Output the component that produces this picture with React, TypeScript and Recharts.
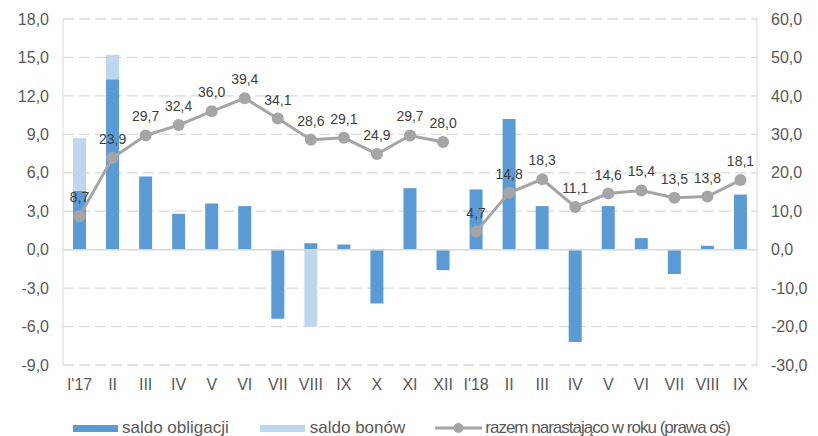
import React from "react";
import {
  ComposedChart, Bar, Line, XAxis, YAxis, CartesianGrid, Legend,
  ReferenceLine, LabelList
} from "recharts";

const categories = ["I'17", "II", "III", "IV", "V", "VI", "VII", "VIII", "IX", "X", "XI", "XII",
  "I'18", "II", "III", "IV", "V", "VI", "VII", "VIII", "IX"];
const saldoObligacji = [4.6, 13.3, 5.7, 2.8, 3.6, 3.4, -5.4, 0.5, 0.4, -4.2, 4.8, -1.6,
  4.7, 10.2, 3.4, -7.2, 3.4, 0.9, -1.9, 0.3, 4.3];
const saldoBonow = [4.1, 1.9, null, null, null, null, null, -6.0, null, null, null, null,
  null, null, null, null, null, null, null, null, null];
const razem2017 = [8.7, 23.9, 29.7, 32.4, 36.0, 39.4, 34.1, 28.6, 29.1, 24.9, 29.7, 28.0];
const razem2018 = [4.7, 14.8, 18.3, 11.1, 14.6, 15.4, 13.5, 13.8, 18.1];
const leftTicks = [-9, -6, -3, 0, 3, 6, 9, 12, 15, 18];
const rightTicks = [-30, -20, -10, 0, 10, 20, 30, 40, 50, 60];

const data = categories.map((c, i) => ({
  cat: c,
  obl: saldoObligacji[i],
  bon: saldoBonow[i],
  r17: i < 12 ? razem2017[i] : null,
  r18: i >= 12 ? razem2018[i - 12] : null,
}));

const fmt = (v: any) => (v == null ? "" : Number(v).toFixed(1).replace(".", ","));

const FONT = "'Liberation Sans', Arial, sans-serif";
const DARK = "#5B9BD5";
const LIGHT = "#BDD7EE";
const GREY = "#A5A5A5";
const TEXT = "#595959";

const LegendContent = () => (
  <div style={{ display: "flex", alignItems: "center", fontFamily: FONT, fontSize: 17, color: TEXT, paddingLeft: 73, paddingTop: 23, lineHeight: "20px" }}>
    <span style={{ width: 45, height: 7, background: DARK, display: "inline-block", marginRight: 4 }} />
    <span style={{ marginRight: 31 }}>saldo obligacji</span>
    <span style={{ width: 45, height: 7, background: LIGHT, display: "inline-block", marginRight: 5 }} />
    <span style={{ marginRight: 30 }}>saldo bonów</span>
    <svg width={47} height={12} style={{ marginRight: 3 }}>
      <line x1={0} y1={6} x2={47} y2={6} stroke={GREY} strokeWidth={3} />
      <circle cx={23.5} cy={6} r={5} fill={GREY} />
    </svg>
    <span style={{ letterSpacing: -1 }}>razem narastająco w roku (prawa oś)</span>
  </div>
);

export default function App() {
  return (
    <div style={{ position: "absolute", left: 0, top: 0, background: "#fff" }}>
      <ComposedChart width={818} height={436} data={data} stackOffset="sign"
        margin={{ top: 19, right: 0, left: 0, bottom: 0 }}>
        <CartesianGrid yAxisId="left" vertical={false} stroke="#D9D9D9" strokeDasharray="11 5" strokeWidth={1.3} />
        <XAxis dataKey="cat" axisLine={false} tickLine={false} height={30} interval={0}
          tick={{ fill: TEXT, fontSize: 16, fontFamily: FONT, dy: 6 }} />
        <YAxis yAxisId="left" domain={[-9, 18]} ticks={leftTicks} width={63}
          tickFormatter={fmt} axisLine={{ stroke: "#D9D9D9" }} tickLine={false}
          tick={{ fill: TEXT, fontSize: 16, fontFamily: FONT, dx: -6 }} />
        <YAxis yAxisId="right" orientation="right" domain={[-30, 60]} ticks={rightTicks} width={61}
          tickFormatter={fmt} axisLine={{ stroke: "#D9D9D9" }} tickLine={false}
          tick={{ fill: TEXT, fontSize: 16, fontFamily: FONT, dx: 6 }} />
        <ReferenceLine yAxisId="left" y={0} stroke="#D9D9D9" strokeWidth={1.5} />
        <Bar yAxisId="left" dataKey="obl" stackId="a" fill={DARK} barSize={13} isAnimationActive={false} />
        <Bar yAxisId="left" dataKey="bon" stackId="a" fill={LIGHT} barSize={13} isAnimationActive={false} />
        <Line yAxisId="right" dataKey="r17" stroke={GREY} strokeWidth={3}
          dot={{ r: 6, fill: GREY, stroke: "none" }} activeDot={false} isAnimationActive={false}>
          <LabelList dataKey="r17" position="top" offset={14} formatter={fmt}
            style={{ fill: "#404040", fontSize: 14, fontFamily: FONT }} />
        </Line>
        <Line yAxisId="right" dataKey="r18" stroke={GREY} strokeWidth={3}
          dot={{ r: 6, fill: GREY, stroke: "none" }} activeDot={false} isAnimationActive={false}>
          <LabelList dataKey="r18" position="top" offset={14} formatter={fmt}
            style={{ fill: "#404040", fontSize: 14, fontFamily: FONT }} />
        </Line>
        <Legend verticalAlign="bottom" height={41} content={<LegendContent />} />
      </ComposedChart>
    </div>
  );
}
